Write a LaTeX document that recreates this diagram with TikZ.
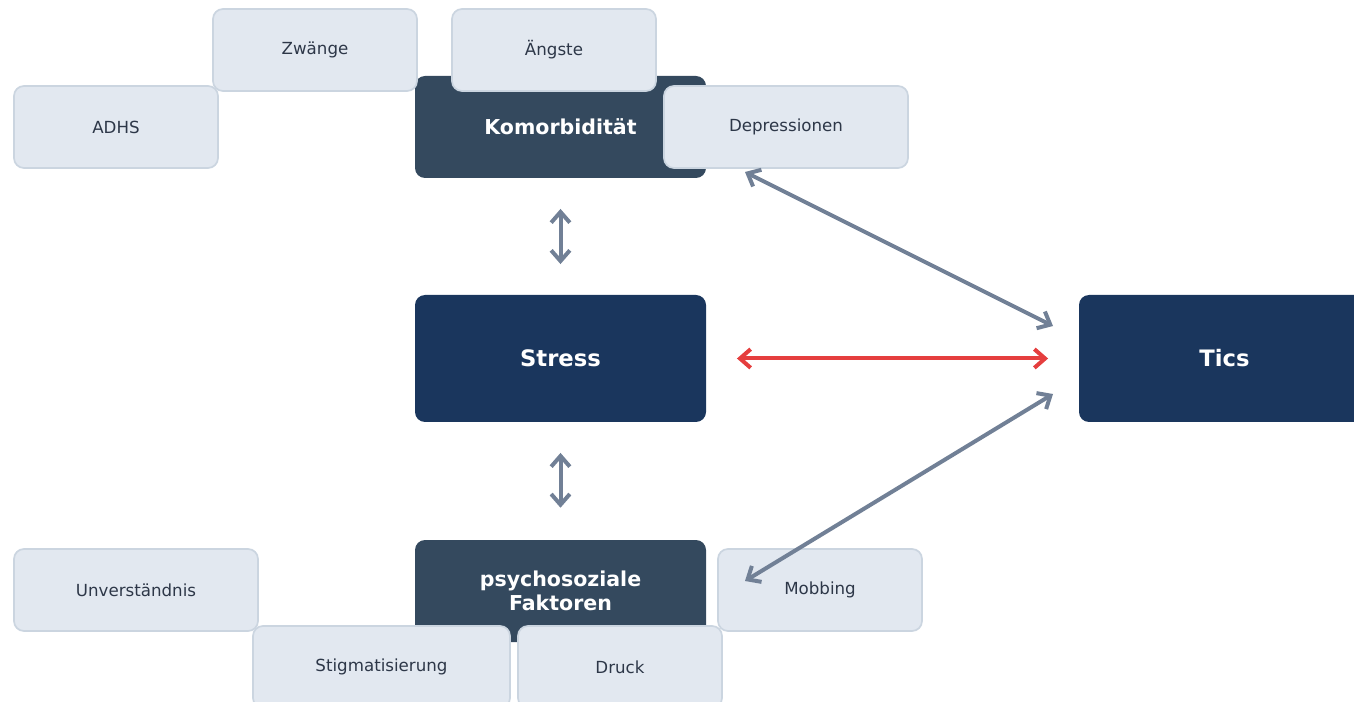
\documentclass[tikz,border=0pt]{standalone}
\usepackage{fontspec}
\setmainfont{DejaVu Sans}
\usetikzlibrary{arrows.meta}
\definecolor{navy}{HTML}{1A365D}
\definecolor{slate}{HTML}{34495E}
\definecolor{itemfill}{HTML}{E2E8F0}
\definecolor{itemline}{HTML}{CBD5E0}
\definecolor{itemtext}{HTML}{2D3748}
\definecolor{linkgray}{HTML}{718096}
\definecolor{linkred}{HTML}{E53E3E}
\tikzset{
  hub/.style={rectangle, rounded corners=7.5pt, fill=navy, text=white,
    font=\bfseries\fontsize{17}{20}\selectfont,
    minimum width=218.25pt, minimum height=95.25pt},
  group/.style={rectangle, rounded corners=7.5pt, fill=slate, text=white,
    font=\bfseries\fontsize{15.4}{18}\selectfont, align=center,
    minimum width=218.25pt, minimum height=76.5pt},
  item/.style={rectangle, rounded corners=7.5pt, fill=itemfill, draw=itemline,
    line width=1.3pt, text=itemtext, font=\fontsize{12.5}{15}\selectfont,
    minimum width=153pt, minimum height=61.5pt},
  link/.style={{Straight Barb[length=8pt,width=14pt]}-{Straight Barb[length=8pt,width=14pt]},
    line width=3pt, draw=linkgray, line cap=round, line join=round},
}
\begin{document}
\begin{tikzpicture}[x=0.75pt,y=-0.75pt]
\useasboundingbox (0,0) rectangle (1354,702);
\node[group] (komorb) at (560.5,127) {Komorbidität};
\node[hub] (stress) at (560.5,358.5) {Stress};
\node[hub] (tics) at (1224.5,358.5) {Tics};
\node[group] (psycho) at (560.5,591) {psychosoziale\\Faktoren};
\node[item] (adhs) at (116,127) {ADHS};
\node[item] (zwaenge) at (315,50) {Zwänge};
\node[item] (aengste) at (554,50) {Ängste};
\node[item, minimum width=183pt] (depr) at (786,127) {Depressionen};
\node[item, minimum width=183pt] (unverst) at (136,590) {Unverständnis};
\node[item] (mobbing) at (820,590) {Mobbing};
\node[item, minimum width=192.75pt] (stigma) at (381.5,667) {Stigmatisierung};
\node[item] (druck) at (620,667) {Druck};
\coordinate (depr-out) at (745,172);
\coordinate (tics-in1) at (1053,326);
\coordinate (mobb-out) at (745,581);
\coordinate (tics-in2) at (1053,394);
\draw[link, shorten <=23pt, shorten >=23pt] (komorb.south) -- (stress.north);
\draw[link, shorten <=23pt, shorten >=24pt] (stress.south) -- (psycho.north);
\draw[link, draw=linkred, shorten <=23pt, shorten >=23pt] (stress.east) -- (tics.west);
\draw[link] (depr-out) -- (tics-in1);
\draw[link] (mobb-out) -- (tics-in2);
\end{tikzpicture}
\end{document}
